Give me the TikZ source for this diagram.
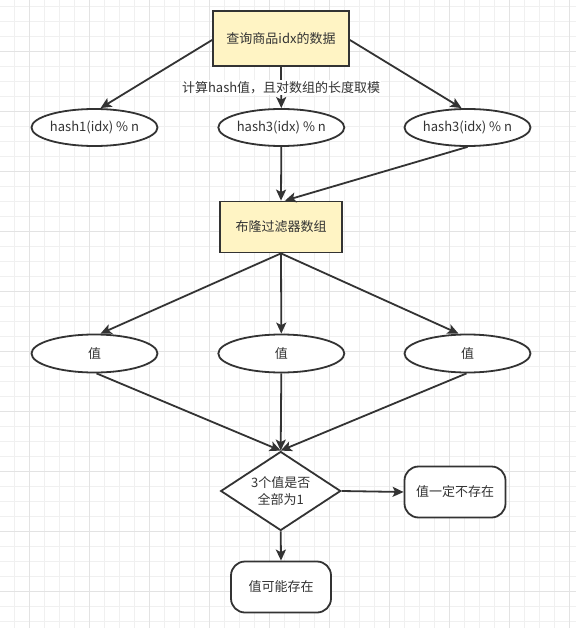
\documentclass[tikz,border=0pt]{standalone}
\usepackage{fontspec}
\setmainfont{Noto Sans CJK SC}
\usetikzlibrary{shapes.geometric,arrows.meta}
\definecolor{ln}{HTML}{333333}
\definecolor{gridminor}{HTML}{F0F0F0}
\definecolor{gridmajor}{HTML}{E3E3E3}
\definecolor{yel}{HTML}{FFF4C4}
\tikzset{
  base/.style={draw=ln, line width=1.8pt, text=ln, font=\fontsize{13pt}{17pt}\selectfont, inner sep=0pt, align=center},
  ybox/.style={base, rectangle, fill=yel},
  ell/.style={base, ellipse, fill=white, minimum width=126pt, minimum height=37pt},
  rbox/.style={base, rectangle, rounded corners=14pt, fill=white, minimum width=101pt, minimum height=51pt},
  dia/.style={base, diamond, fill=white, aspect=1.52, minimum width=120pt, minimum height=79pt},
  arr/.style={draw=ln, line width=1.8pt, -{Stealth[length=11pt,width=10pt,inset=2.5pt]}},
  lbl/.style={fill=white, text=ln, font=\fontsize{13pt}{17pt}\selectfont, inner sep=1pt},
  gminor/.style={draw=gridminor, line width=1pt},
  gmajor/.style={draw=gridmajor, line width=1pt}
}
\begin{document}
\begin{tikzpicture}[x=1pt,y=-1pt]
\useasboundingbox (0,0) rectangle (576,628);
\fill[white] (0,0) rectangle (576,628);
\foreach \i in {0,...,38} { \draw[gminor] (15*\i-0.3,0) -- (15*\i-0.3,628); }
\foreach \i in {0,...,41} { \draw[gminor] (0,15*\i+6.7) -- (576,15*\i+6.7); }
\foreach \i in {0,...,9} { \draw[gmajor] (60*\i+29.7,0) -- (60*\i+29.7,628); }
\foreach \i in {0,...,9} { \draw[gmajor] (0,60*\i-8.3) -- (576,60*\i-8.3); }
\draw[gmajor] (0,591.7) -- (576,591.7);

\node[ybox, minimum width=136pt, minimum height=55pt] (t) at (281,38.5) {查询商品idx的数据};
\node[ell] (h1) at (94.5,127.5) {hash1(idx) \% n};
\node[ell] (h2) at (281.3,127.5) {hash3(idx) \% n};
\node[ell] (h3) at (467.5,127.5) {hash3(idx) \% n};
\node[ybox, minimum width=122pt, minimum height=51pt] (b) at (281,227) {布隆过滤器数组};
\node[ell, minimum height=38pt] (v1) at (94.5,353.5) {值};
\node[ell, minimum height=38pt] (v2) at (281.3,353.5) {值};
\node[ell, minimum height=38pt] (v3) at (467.5,353.5) {值};
\node[dia] (d) at (280.7,491) {3个值是否\\全部为1};
\node[rbox] (no) at (455,492) {值一定不存在};
\node[rbox, minimum width=100pt] (maybe) at (281,587) {值可能存在};

\draw[arr] ([yshift=-1.5pt]t.west) -- ([xshift=6pt]h1.north);
\draw[arr] (t.south) -- (h2.north) node[midway, lbl] {计算hash值，且对数组的长度取模};
\draw[arr] ([yshift=-1.5pt]t.east) -- ([xshift=-6pt]h3.north);
\draw[arr] (h2.south) -- (b.north);
\draw[arr] (h3.south) -- ([xshift=4pt]b.north);
\draw[arr] (b.south) -- ([xshift=6pt]v1.north);
\draw[arr] (b.south) -- (v2.north);
\draw[arr] (b.south) -- ([xshift=-9pt]v3.north);
\draw[arr] ([xshift=2pt]v1.south) -- (d.north);
\draw[arr] (v2.south) -- (d.north);
\draw[arr] ([xshift=-1pt]v3.south) -- (d.north);
\draw[arr] (d.east) -- (no.west);
\draw[arr] (d.south) -- (maybe.north);
\end{tikzpicture}
\end{document}
